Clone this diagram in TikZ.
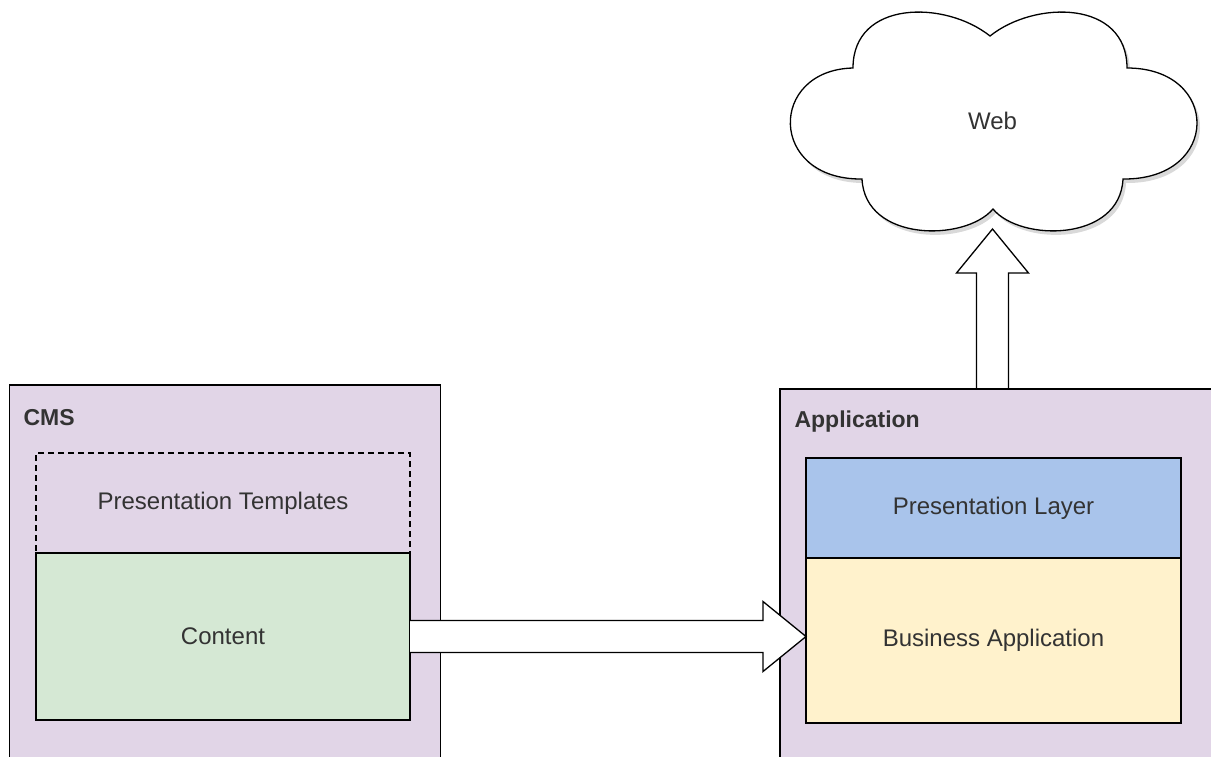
\documentclass[tikz,border=0pt]{standalone}
\usepackage{fontspec}
\setmainfont{Liberation Sans}
\usetikzlibrary{calc, positioning}
\definecolor{lilac}{HTML}{E1D5E7}
\definecolor{softgreen}{HTML}{D5E8D4}
\definecolor{softblue}{HTML}{A9C4EB}
\definecolor{softyellow}{HTML}{FFF2CC}
\definecolor{textgrey}{HTML}{333333}
\newcommand{\cloudoutline}{(990,36) .. controls (945,0) and (853,0) .. (853,68)
	.. controls (768,70) and (768,180) .. (862,179)
	.. controls (865,242) and (965,242) .. (993,209)
	.. controls (1020,242) and (1120,242) .. (1123,179)
	.. controls (1221,180) and (1221,68) .. (1127,68)
	.. controls (1127,0) and (1035,0) .. cycle}

\begin{document}
\begin{tikzpicture}[x=1pt, y=-1pt,
		box/.style = {draw, line width=1.3pt, outer sep=0pt, text=textgrey, font=\fontsize{24}{28}\selectfont},
		title/.style = {anchor=west, text=textgrey, font=\bfseries\fontsize{23}{27}\selectfont},
		block arrow/.style = {draw, fill=white, line width=1.3pt, line join=miter}]
		\useasboundingbox (0,0) rectangle (1211,756);
		\clip (0,0) rectangle (1211,756);
		
		\node [box, fill=lilac, anchor=north west, minimum width=431pt, minimum height=400pt] (cms) at (9.5,385) {};
		\node [title] (cms title) at (20,418) {CMS};
		\node [box, dashed, dash pattern=on 6pt off 4pt, minimum width=374pt, minimum height=100pt] (templates) at (223,503) {Presentation Templates};
		\node [box, fill=softgreen, minimum width=374pt, minimum height=167pt, below=0pt of templates] (content) {Content};
		
		\fill [gray, opacity=0.3, shift={(3,4)}] \cloudoutline;
		\filldraw [fill=white, line width=1.3pt] \cloudoutline;
		\node [text=textgrey, font=\fontsize{24}{28}\selectfont, minimum width=409pt, minimum height=216pt, outer sep=0pt] (web) at (992.5,121) {Web};
		
		\coordinate (web base) at (web.south |- 0,389);
		\draw [block arrow] ($(web base)+(-16,0)$) -- ($(web.south)+(-16,44)$) -- ($(web.south)+(-36,44)$) -- (web.south)
			-- ($(web.south)+(36,44)$) -- ($(web.south)+(16,44)$) -- ($(web base)+(16,0)$);
		
		\node [box, fill=lilac, anchor=north west, minimum width=470pt, minimum height=400pt] (app) at (780,389) {};
		\node [title] (app title) at (791,422) {Application};
		\node [box, fill=softblue, minimum width=375pt, minimum height=100pt] (layer) at (993.5,508) {Presentation Layer};
		\node [box, fill=softyellow, minimum width=375pt, minimum height=165pt, below=0pt of layer] (business) {Business Application};
		
		\coordinate (push tip) at (business.west |- content.east);
		\draw [block arrow] ($(content.east)+(0,-16)$) -- ($(push tip)+(-43,-16)$) -- ($(push tip)+(-43,-35)$) -- (push tip)
			-- ($(push tip)+(-43,35)$) -- ($(push tip)+(-43,16)$) -- ($(content.east)+(0,16)$);
	\end{tikzpicture}
\end{document}
